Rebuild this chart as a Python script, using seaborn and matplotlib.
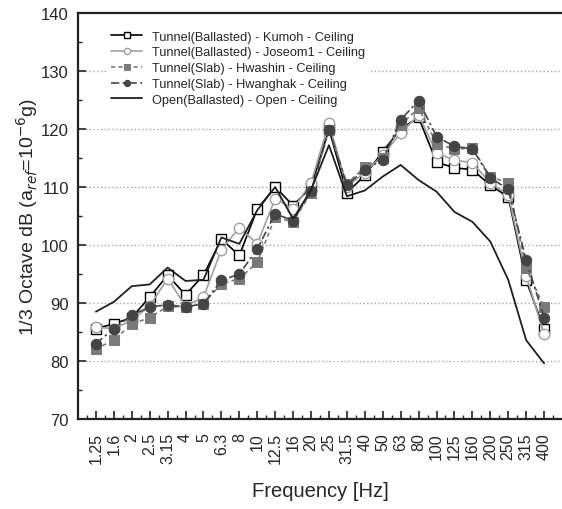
import matplotlib
matplotlib.use("Agg")
import matplotlib.pyplot as plt
import seaborn as sns
import numpy as np
import pandas as pd
from matplotlib.ticker import MultipleLocator, FixedLocator

sns.set_theme(style="white")
plt.rcParams['font.family'] = ['Liberation Sans', 'DejaVu Sans']

freqs = ['1.25', '1.6', '2', '2.5', '3.15', '4', '5', '6.3', '8', '10', '12.5', '16',
         '20', '25', '31.5', '40', '50', '63', '80', '100', '125', '160', '200', '250',
         '315', '400']

kumoh = [85.6, 86.4, 87.5, 91.0, 94.8, 91.4, 94.8, 101.0, 98.2, 106.2, 110.0, 106.8,
         110.0, 120.0, 109.0, 112.0, 116.1, 120.0, 122.0, 114.3, 113.3, 113.0, 110.3,
         108.3, 93.9, 85.5]
joseom1 = [85.8, 85.6, 87.0, 89.5, 94.2, 89.5, 91.0, 99.2, 103.0, 100.2, 108.0, 106.2,
           110.7, 121.1, 110.0, 112.5, 115.5, 119.3, 122.4, 115.9, 114.6, 114.2, 110.7,
           108.7, 94.7, 84.6]
hwashin = [82.0, 83.7, 86.3, 87.5, 89.4, 89.3, 89.9, 93.3, 94.2, 97.0, 104.8, 104.0,
           109.0, 119.9, 110.6, 113.4, 115.0, 120.7, 123.6, 117.5, 116.5, 116.7, 111.8,
           110.7, 96.0, 89.3]
hwanghak = [83.0, 85.6, 87.9, 89.3, 89.7, 89.3, 89.9, 93.9, 95.0, 99.3, 105.4, 104.2,
            109.3, 119.9, 110.3, 113.0, 114.7, 121.6, 124.9, 118.7, 117.0, 116.6, 111.6,
            109.6, 97.4, 87.5]
open_ = [88.5, 90.2, 92.9, 93.2, 96.1, 93.8, 94.0, 101.3, 100.2, 106.0, 110.0, 104.5,
         109.5, 117.2, 108.4, 109.4, 111.8, 113.8, 111.2, 109.2, 105.7, 104.0, 100.6,
         94.0, 83.6, 79.6]

labels = ['Tunnel(Ballasted) - Kumoh - Ceiling',
          'Tunnel(Ballasted) - Joseom1 - Ceiling',
          'Tunnel(Slab) - Hwashin - Ceiling',
          'Tunnel(Slab) - Hwanghak - Ceiling',
          'Open(Ballasted) - Open - Ceiling']

fig = plt.figure(figsize=(5.62, 5.10), dpi=100)
ax = fig.add_axes([78/562, 1 - 420/510, 1 - 78/562, (420 - 14)/510])

idx = np.arange(len(freqs))

styles = [
    dict(color='black', linestyle='-', marker='s', markerfacecolor='white',
         markeredgecolor='black', markersize=6.5, linewidth=1.2, markeredgewidth=1.0),
    dict(color='#a0a0a0', linestyle='-', marker='o', markerfacecolor='white',
         markeredgecolor='#a0a0a0', markersize=7.5, linewidth=1.2, markeredgewidth=1.0),
    dict(color='#7a7a7a', linestyle=(0, (2.5, 2)), marker='s', markerfacecolor='#7a7a7a',
         markeredgecolor='#7a7a7a', markersize=6.5, linewidth=1.2),
    dict(color='#454545', linestyle=(0, (5, 2, 1.5, 2)), marker='o', markerfacecolor='#454545',
         markeredgecolor='#454545', markersize=7.5, linewidth=1.2),
    dict(color='#202020', linestyle='-', linewidth=1.3),
]

for vals, lab, st in zip([kumoh, joseom1, hwashin, hwanghak, open_], labels, styles):
    sns.lineplot(x=idx, y=vals, ax=ax, label=lab, **st)

ax.set_xlim(-1, 26)
ax.set_ylim(70, 140)
ax.set_xticks(idx)
ax.set_xticklabels(freqs, rotation=90, fontsize=11.5)
ax.xaxis.set_minor_locator(FixedLocator(np.arange(-0.5, 26, 1.0)))
ax.yaxis.set_major_locator(MultipleLocator(10))
ax.yaxis.set_minor_locator(MultipleLocator(5))
ax.tick_params(axis='y', labelsize=12, pad=6.5)
ax.tick_params(axis='x', pad=9.5)
ax.tick_params(which='major', direction='in', length=6, width=1.2, color='#222222',
               bottom=True, left=True, top=False, right=False)
ax.tick_params(which='minor', direction='in', length=3, width=1.0, color='#222222',
               bottom=True, left=True, top=False, right=False)

for y in [80, 90, 100, 110, 120, 130]:
    ax.axhline(y, color='#999999', linestyle=(0, (1, 2)), linewidth=0.9, zorder=0)

for s in ax.spines.values():
    s.set_color('#222222')
    s.set_linewidth(1.6)
ax.spines['right'].set_visible(False)

ax.set_xlabel('Frequency [Hz]', fontsize=14.5, labelpad=13)
ax.set_ylabel('1/3 Octave dB (a$_{ref}$=10$^{-6}$g)', fontsize=14, labelpad=1)

leg = ax.legend(loc='upper left', bbox_to_anchor=(0.045, 0.985), fontsize=9.2,
                frameon=True, facecolor='white', edgecolor='none', framealpha=1,
                handlelength=2.4, labelspacing=0.3, borderpad=0.4, fancybox=False,
                markerscale=0.6)

fig.savefig('out.png', dpi=100)
